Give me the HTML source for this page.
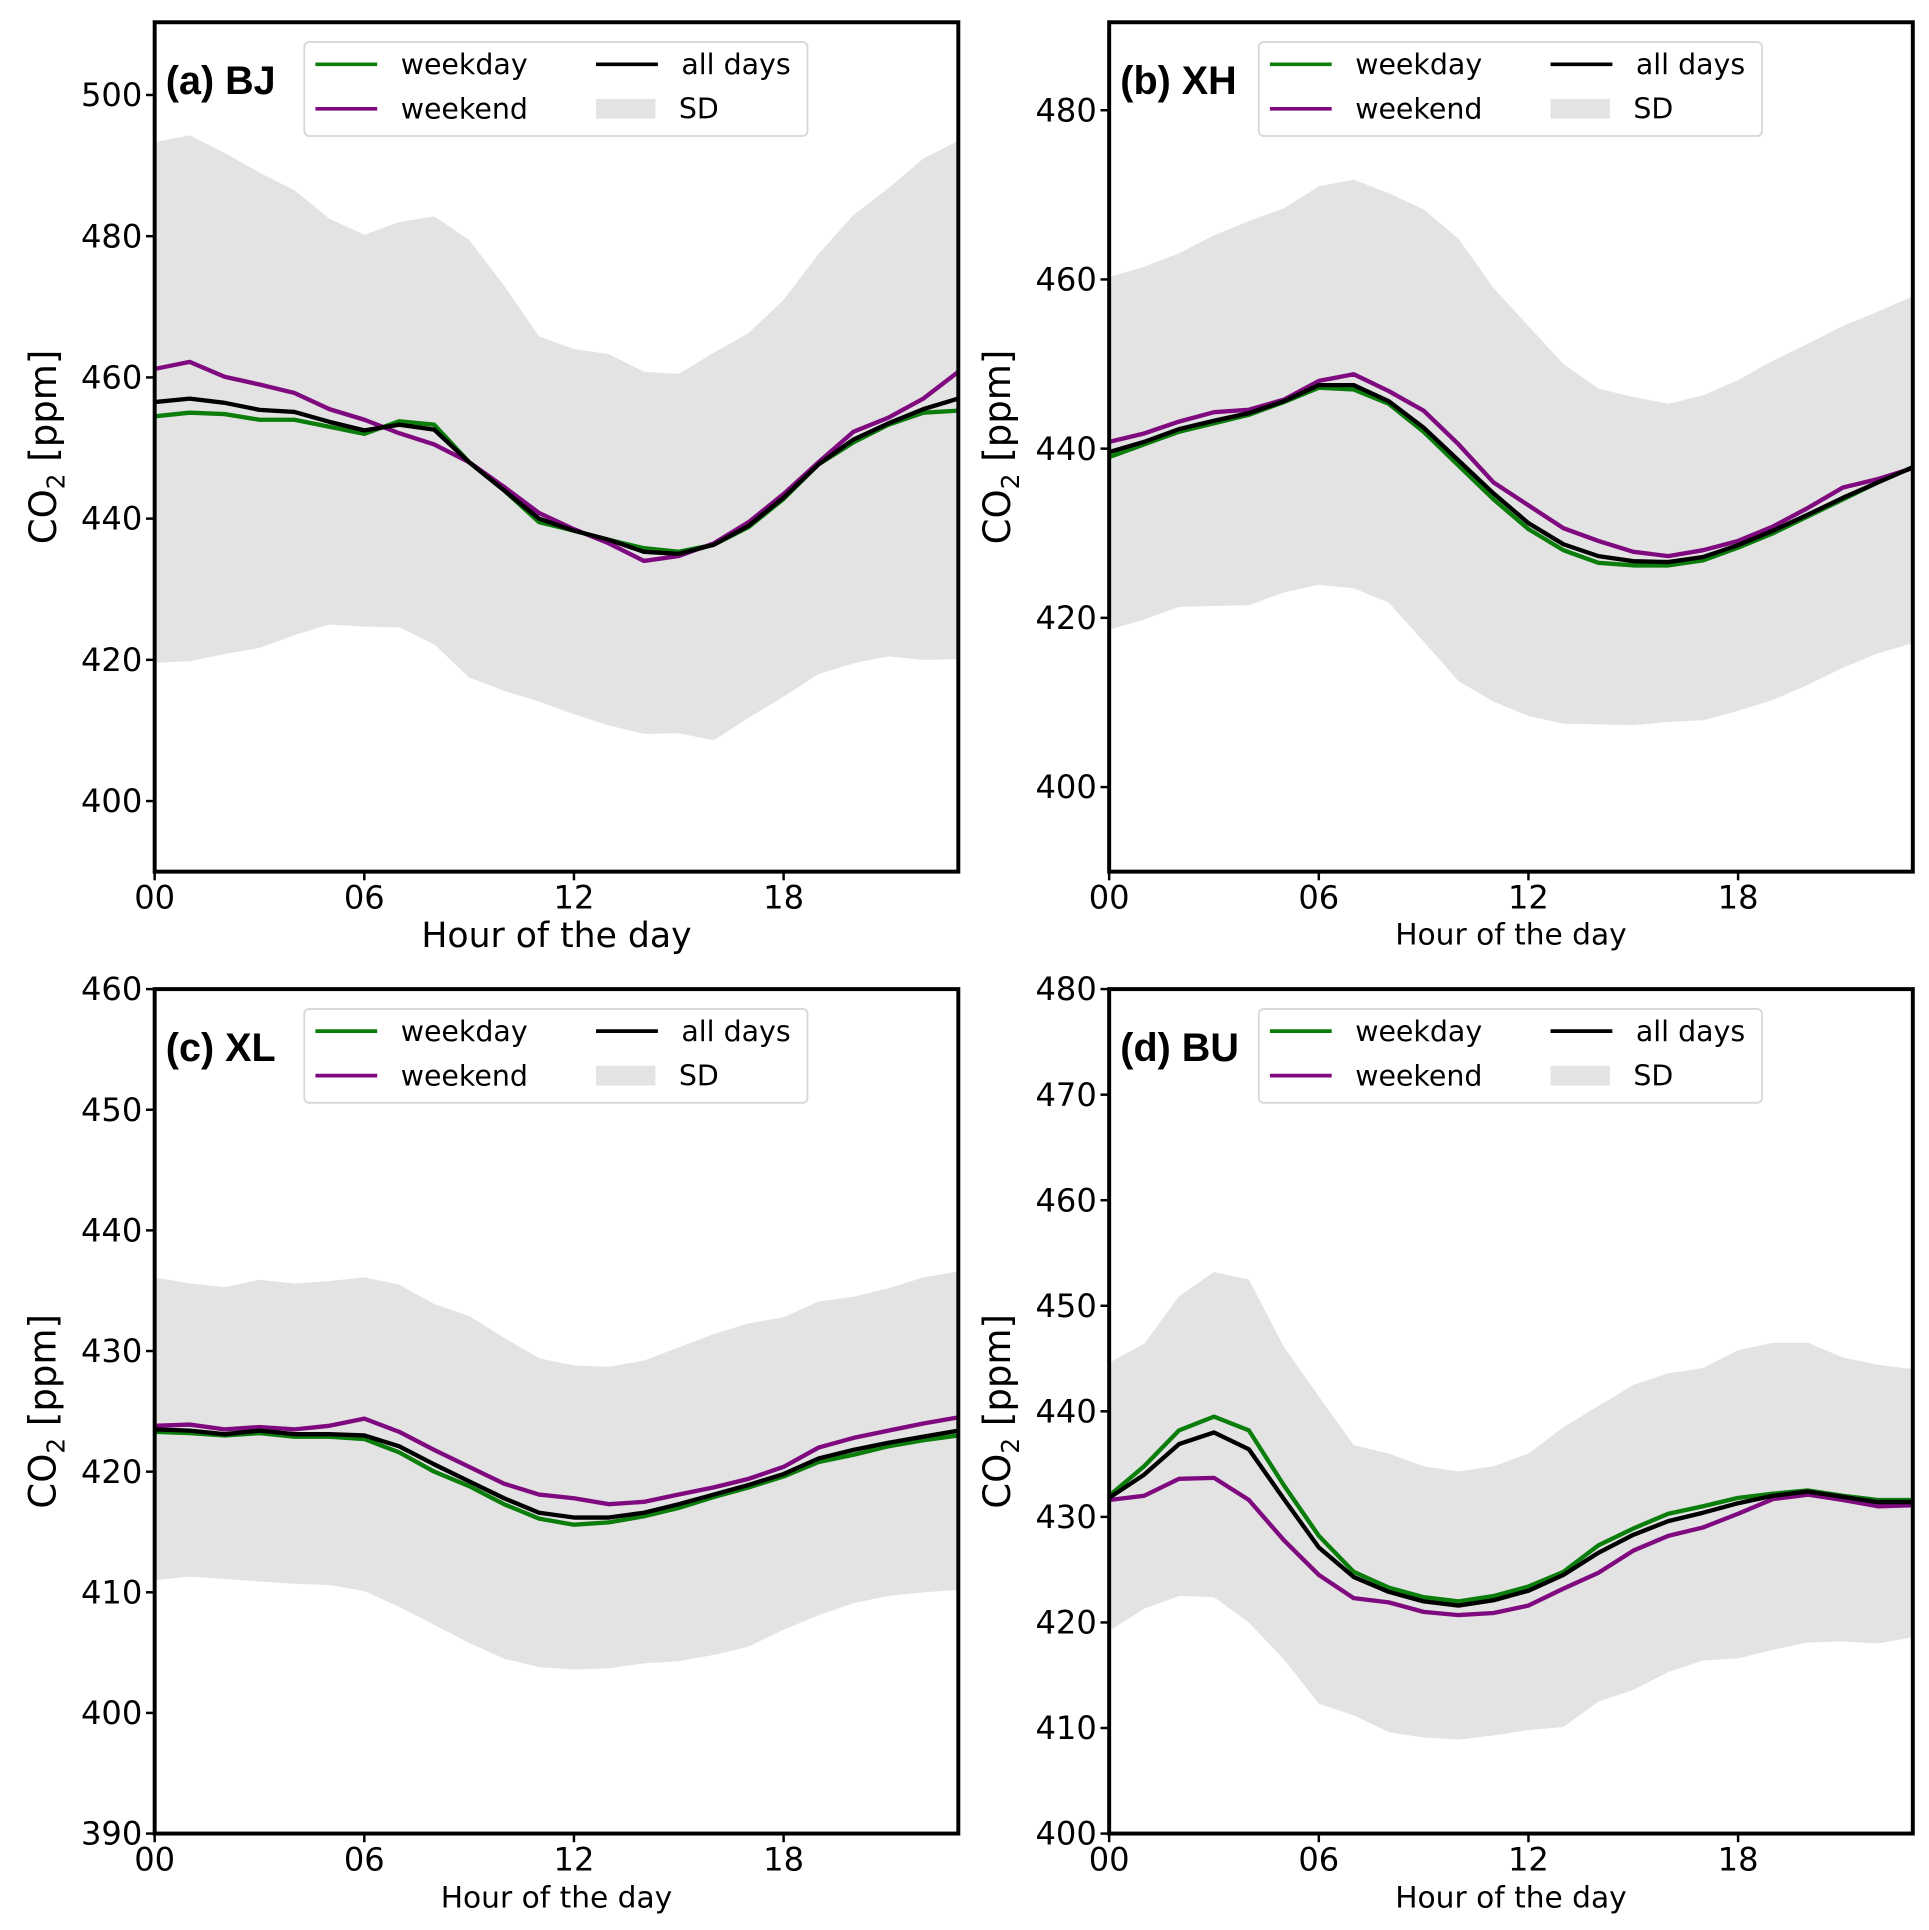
<!DOCTYPE html>
<html><head><meta charset="utf-8"><style>
html,body{margin:0;padding:0;background:#fff;}
svg{display:block;font-family:"DejaVu Sans","Liberation Sans",sans-serif;}
</style></head><body>
<svg id="fig" width="1929" height="1930" viewBox="0 0 1560 1561" xmlns="http://www.w3.org/2000/svg"></svg>
<script>
const hours = [0,1,2,3,4,5,6,7,8,9,10,11,12,13,14,15,16,17,18,19,20,21,22,23];
const xTickLabels = ["00","06","12","18"];
const xTickValues = [0,6,12,18];
const panelLabels = ["(a) BJ","(b) XH","(c) XL","(d) BU"];

const bjWeekday = [454.5,455,454.8,454,454,453,452,453.8,453.3,448,444,439.5,438.3,437,435.8,435.3,436.3,438.8,442.8,447.7,450.8,453.3,455,455.3];
const bjWeekend = [461.2,462.2,460.1,459,457.8,455.5,454,452.1,450.5,448,444.5,440.8,438.5,436.5,434,434.7,436.5,439.5,443.5,448,452.3,454.3,457,460.8];
const bjAll = [456.5,457,456.4,455.4,455.1,453.7,452.5,453.3,452.6,448,444,440,438.3,437,435.3,435,436.3,439,443,447.7,451.2,453.5,455.5,457];
const bjUpper = [493.3,494.3,491.8,489,486.5,482.5,480.2,482,482.8,479.5,473,465.8,464,463.3,460.8,460.5,463.5,466.3,471,477.5,483,486.8,491,493.5];
const bjLower = [419.6,419.8,420.8,421.7,423.5,425,424.7,424.6,422.2,417.5,415.6,414.1,412.3,410.7,409.5,409.6,408.6,411.8,414.8,418,419.5,420.5,420,420.1];

const xhWeekday = [439,440.5,442,443,444,445.5,447.2,447,445.3,442,438,434,430.5,428,426.5,426.2,426.2,426.8,428.3,430,432,434,436,437.8];
const xhWeekend = [440.8,441.8,443.2,444.3,444.6,445.8,448,448.8,446.8,444.5,440.5,436,433.3,430.6,429.1,427.8,427.3,428,429.1,430.8,433,435.4,436.4,437.7];
const xhAll = [439.6,440.8,442.3,443.3,444.2,445.6,447.5,447.5,445.6,442.5,438.6,434.7,431.2,428.7,427.3,426.7,426.6,427.2,428.6,430.3,432.2,434.2,436,437.8];
const xhUpper = [460.3,461.5,463.1,465.2,466.9,468.4,471,471.8,470.2,468.3,464.8,459,454.5,450,447.1,446.1,445.3,446.3,448.1,450.4,452.4,454.5,456.2,458];
const xhLower = [418.6,419.8,421.3,421.4,421.5,423,423.9,423.5,421.8,417.2,412.5,410.1,408.4,407.5,407.4,407.3,407.7,407.9,409,410.3,412.1,414.1,415.8,417];

const xlWeekday = [423.3,423.2,423,423.2,422.9,422.9,422.7,421.6,420,418.8,417.3,416.1,415.6,415.8,416.3,417,417.9,418.7,419.6,420.8,421.4,422.1,422.6,423];
const xlWeekend = [423.8,423.9,423.5,423.7,423.5,423.8,424.4,423.3,421.8,420.4,419,418.1,417.8,417.3,417.5,418.1,418.7,419.4,420.4,422,422.8,423.4,424,424.5];
const xlAll = [423.5,423.4,423.1,423.4,423.1,423.1,423,422.1,420.6,419.2,417.8,416.6,416.2,416.2,416.6,417.3,418.1,418.9,419.8,421.1,421.8,422.4,422.9,423.4];
const xlUpper = [436.1,435.6,435.3,435.9,435.6,435.8,436.1,435.5,433.9,432.9,431.1,429.4,428.8,428.7,429.2,430.3,431.4,432.3,432.8,434.1,434.5,435.2,436.1,436.6];
const xlLower = [411,411.3,411.1,410.9,410.7,410.6,410.1,408.8,407.3,405.8,404.5,403.8,403.6,403.7,404.1,404.3,404.8,405.5,406.9,408.1,409.1,409.7,410,410.2];

const buWeekday = [432,434.8,438.2,439.5,438.2,433,428.2,424.8,423.3,422.4,422,422.5,423.4,424.8,427.3,428.9,430.3,431,431.8,432.2,432.5,432,431.6,431.6];
const buWeekend = [431.6,432,433.6,433.7,431.6,427.8,424.5,422.3,421.9,421,420.7,420.9,421.6,423.2,424.7,426.8,428.2,429,430.3,431.7,432.1,431.6,431,431.1];
const buAll = [431.8,434,436.9,438,436.4,431.7,427.1,424.3,422.9,422,421.6,422.1,423,424.5,426.6,428.3,429.6,430.4,431.3,432,432.4,431.9,431.4,431.4];
const buUpper = [444.6,446.4,450.9,453.2,452.5,446.1,441.4,436.8,436,434.8,434.3,434.8,436,438.5,440.5,442.5,443.6,444.1,445.8,446.5,446.5,445.1,444.4,444];
const buLower = [419.2,421.3,422.5,422.4,420,416.5,412.3,411.2,409.6,409.1,408.9,409.3,409.8,410.1,412.5,413.6,415.3,416.4,416.6,417.4,418.1,418.2,418,418.6];

const yTicksA = [400,420,440,460,480,500];
const yTicksB = [400,420,440,460,480];
const yTicksC = [390,400,410,420,430,440,450,460];
const yTicksD = [400,410,420,430,440,450,460,470,480];

const NS = "http://www.w3.org/2000/svg";
const svg = document.getElementById("fig");
function mk(tag, attrs, parent){
  const e = document.createElementNS(NS, tag);
  for (const k in attrs) e.setAttribute(k, attrs[k]);
  (parent||svg).appendChild(e);
  return e;
}

const panels = [
  {id:"a", x0:125, x1:775, y0:18, y1:705, ymin:390, ymax:510.3, ticks:yTicksA, wd:bjWeekday, we:bjWeekend, al:bjAll, up:bjUpper, lo:bjLower, xlFont:28, xlY:766},
  {id:"b", x0:897, x1:1547, y0:18, y1:705, ymin:390, ymax:490.4, ticks:yTicksB, wd:xhWeekday, we:xhWeekend, al:xhAll, up:xhUpper, lo:xhLower, xlFont:24, xlY:764},
  {id:"c", x0:125, x1:775, y0:800, y1:1483, ymin:390, ymax:460, ticks:yTicksC, wd:xlWeekday, we:xlWeekend, al:xlAll, up:xlUpper, lo:xlLower, xlFont:24, xlY:1543},
  {id:"d", x0:897, x1:1547, y0:800, y1:1483, ymin:400, ymax:480, ticks:yTicksD, wd:buWeekday, we:buWeekend, al:buAll, up:buUpper, lo:buLower, xlFont:24, xlY:1543}
];

panels.forEach((p, pi) => {
  const g = mk("g", {});
  
  
  const xs = h => p.x0 + (h - 0) / 23 * (p.x1 - p.x0);
  const ys = v => p.y1 - (v - p.ymin) / (p.ymax - p.ymin) * (p.y1 - p.y0);

  let d = "";
  hours.forEach((h,i)=>{ d += (i?"L":"M") + xs(h).toFixed(1) + "," + ys(p.up[i]).toFixed(1); });
  for (let i = hours.length-1; i>=0; i--) d += "L" + xs(hours[i]).toFixed(1) + "," + ys(p.lo[i]).toFixed(1);
  d += "Z";
  const band = mk("path", {d:d, fill:"#e3e3e3", stroke:"none"}, g);
  
  

  const series = [[p.wd,"#0a7d0a","weekday-line"],[p.we,"#7f0a7f","weekend-line"],[p.al,"#000","all-days-line"]];
  series.forEach(s => {
    const pts = hours.map((h,i)=> xs(h).toFixed(1)+","+ys(s[0][i]).toFixed(1)).join(" ");
    const pl = mk("polyline", {points:pts, fill:"none", stroke:s[1], "stroke-width":3.5, "stroke-linejoin":"round"}, g);
    
    
  });

  const fr = mk("rect", {x:p.x0, y:p.y0, width:p.x1-p.x0, height:p.y1-p.y0, fill:"none", stroke:"#000", "stroke-width":3.2}, g);
  
  

  p.ticks.forEach(t => {
    const y = ys(t);
    mk("line", {x1:p.x0-7, x2:p.x0, y1:y, y2:y, stroke:"#000", "stroke-width":2}, g);
    const tx = mk("text", {x:p.x0-10, y:y+9, "font-size":26, "text-anchor":"end", fill:"#000"}, g);
    tx.textContent = t;
    
    
  });
  xTickValues.forEach((t, i) => {
    const x = xs(t);
    mk("line", {x1:x, x2:x, y1:p.y1, y2:p.y1+7, stroke:"#000", "stroke-width":2}, g);
    const tx = mk("text", {x:x, y:p.y1+30, "font-size":26, "text-anchor":"middle", fill:"#000"}, g);
    tx.textContent = xTickLabels[i];
    
    
  });
  const xl = mk("text", {x:(p.x0+p.x1)/2, y:p.xlY, "font-size":p.xlFont, "text-anchor":"middle", fill:"#000"}, g);
  xl.textContent = "Hour of the day";
  
  

  const ycx = p.x0 - 80, ycy = (p.y0+p.y1)/2;
  const yl = mk("text", {x:ycx, y:ycy, "font-size":30, "text-anchor":"middle", fill:"#000", transform:"rotate(-90 "+ycx+" "+ycy+")"}, g);
  yl.innerHTML = 'CO<tspan font-size="20" dy="7">2</tspan><tspan dy="-7"> [ppm]</tspan>';
  
  

  const pl = mk("text", {x:p.x0+9, y:p.y0+58, "font-size":32, "font-weight":"bold", fill:"#000", "font-family":"Liberation Sans, sans-serif"}, g);
  pl.textContent = panelLabels[pi];
  
  

  const lg = mk("g", {}, g);
  
  
  const lx = p.x0 + 121, ly = p.y0 + 16;
  mk("rect", {x:lx, y:ly, width:407, height:76, rx:4, fill:"#fff", stroke:"#d8d8d8", "stroke-width":1.5}, lg);
  const entries = [
    {t:"weekday", c:"#0a7d0a", x:lx+9, y:ly+18},
    {t:"weekend", c:"#7f0a7f", x:lx+9, y:ly+54},
    {t:"all days", c:"#000", x:lx+236, y:ly+18}
  ];
  entries.forEach(e => {
    const eg = mk("g", {}, lg);
    
    
    mk("line", {x1:e.x, x2:e.x+50, y1:e.y, y2:e.y, stroke:e.c, "stroke-width":3}, eg);
    const t = mk("text", {x:e.x+69, y:e.y+8, "font-size":23, fill:"#000"}, eg);
    t.textContent = e.t;
  });
  const sg = mk("g", {}, lg);
  
  
  mk("rect", {x:lx+236, y:ly+46, width:48, height:16, fill:"#e3e3e3"}, sg);
  const st = mk("text", {x:lx+303, y:ly+62, "font-size":23, fill:"#000"}, sg);
  st.textContent = "SD";
});
</script>
</body></html>
